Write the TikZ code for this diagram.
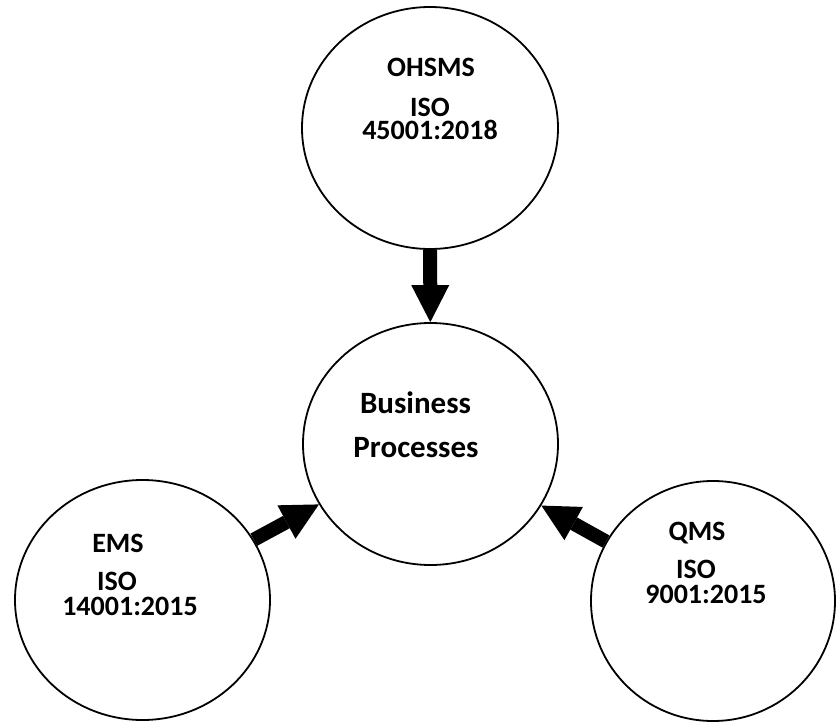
\documentclass[tikz,border=0pt]{standalone}
\usepackage{fontspec}
\setmainfont{Carlito}
\usetikzlibrary{shapes.geometric,arrows.meta}
\begin{document}
\begin{tikzpicture}[x=1pt,y=-1pt,
  sysnode/.style={ellipse, draw, line width=1.8pt, inner sep=0pt,
                  minimum width=255pt, minimum height=242pt},
  lbl/.style={anchor=base, inner sep=0pt, text height=18pt, text depth=0pt,
              font=\bfseries\fontsize{28}{28}\selectfont},
  biglbl/.style={anchor=base, inner sep=0pt,
                 font=\bfseries\fontsize{31}{31}\selectfont},
  flow/.style={line width=14pt,
               -{Triangle[width=38pt,length=37pt,line width=0pt]}}]
\useasboundingbox (0,0) rectangle (836,722);

% the four management-system circles
\node[sysnode, minimum width=256pt] (ohs) at (430,128) {};
\node[sysnode] (bp)  at (430.5,444) {};
\node[sysnode, minimum height=240pt] (ems) at (142.5,600) {};
\node[sysnode, minimum width=244pt, minimum height=240pt] (qms) at (713,601) {};

% labels
\node[lbl] (ohsT) at (431,77) {OHSMS};
\node[lbl] (ohsI) at (430,116.5) {ISO};
\node[lbl] (ohsN) at (430,139.5) {45001:2018};

\node[biglbl] (bpA) at (415.5,413) {Business};
\node[biglbl] (bpB) at (416,457) {Processes};

\node[lbl] (emsT) at (118,552) {EMS};
\node[lbl] (emsI) at (117,590) {ISO};
\node[lbl] (emsN) at (130,615.5) {14001:2015};

\node[lbl] (qmsT) at (697,540) {QMS};
\node[lbl] (qmsI) at (696,578.5) {ISO};
\node[lbl] (qmsN) at (706,603.5) {9001:2015};

% block arrows into the business processes
\draw[flow] (ohs) -- (bp);
\draw[flow] (ems) -- (bp);
\draw[flow] (qms) -- (bp);
\end{tikzpicture}
\end{document}
